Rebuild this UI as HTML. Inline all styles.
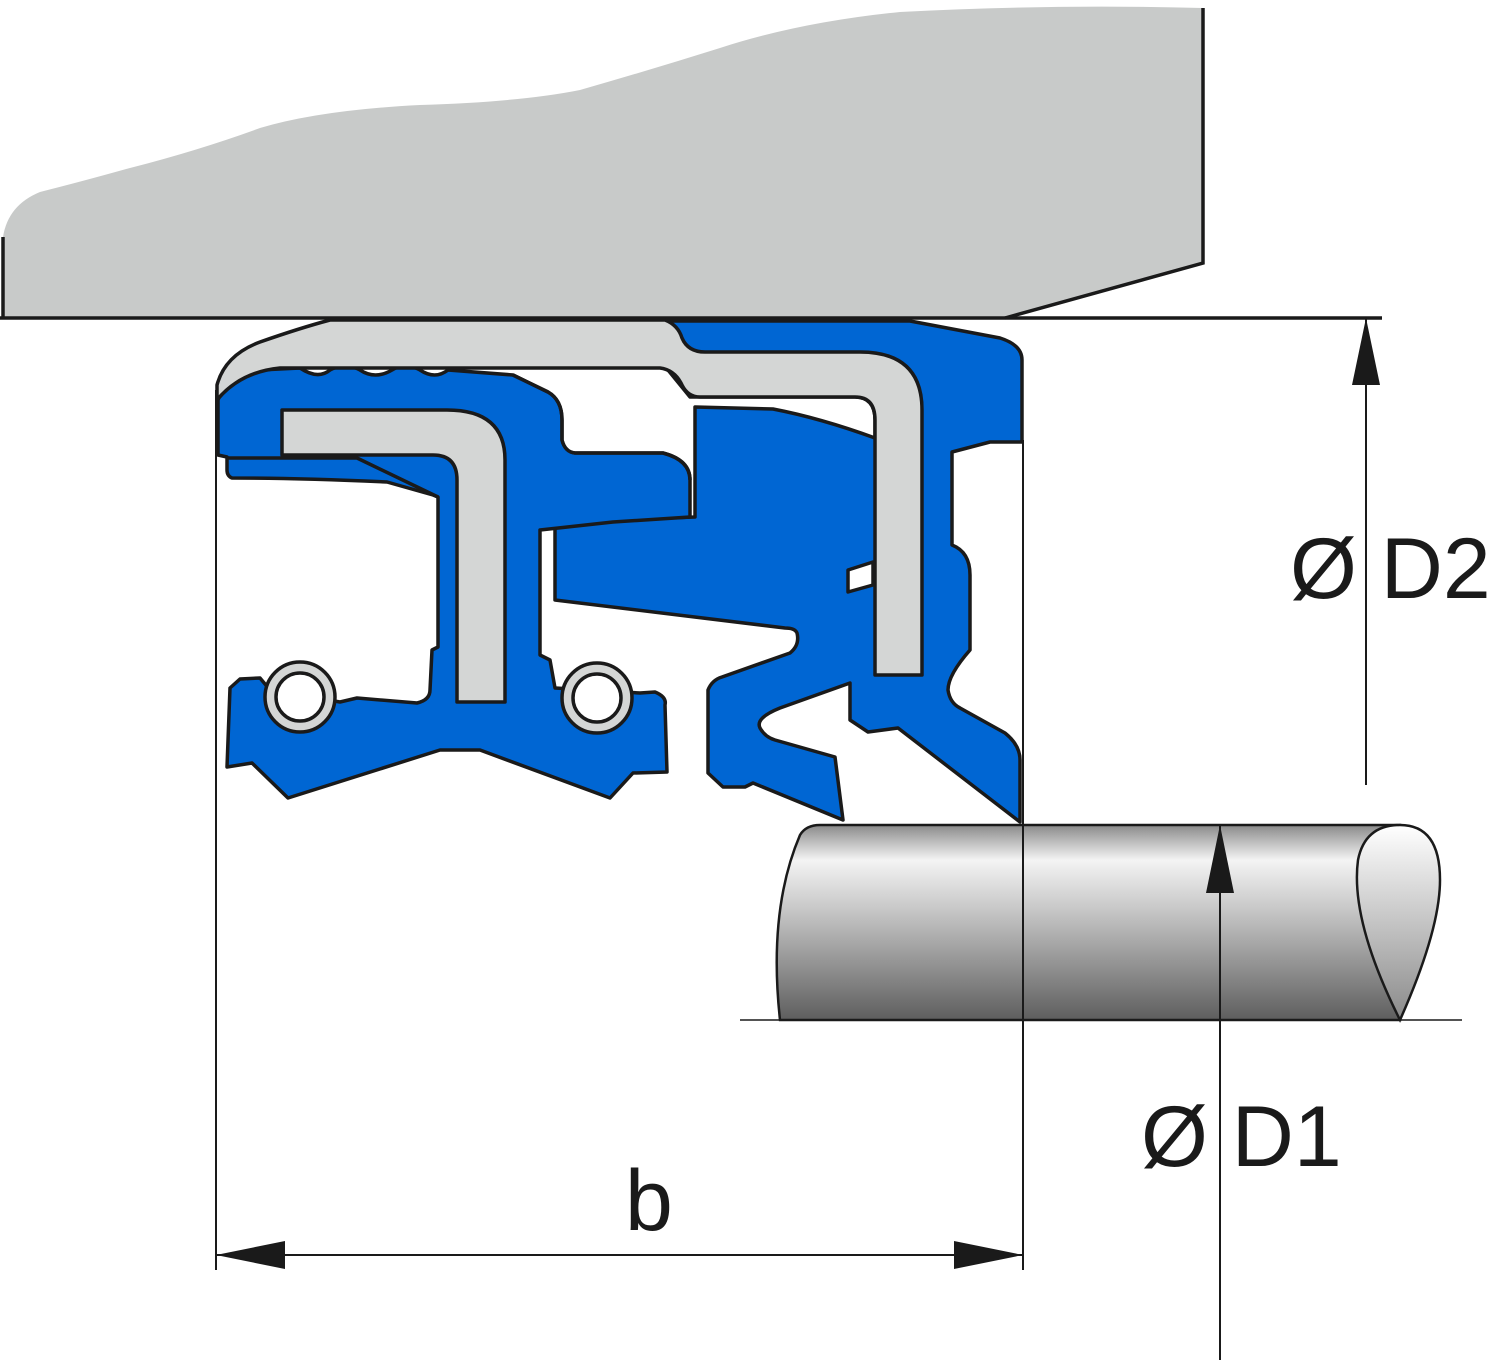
<!DOCTYPE html>
<html><head><meta charset="utf-8"><style>html,body{margin:0;padding:0;background:#fff}svg{display:block}</style></head>
<body>
<svg width="1500" height="1363" viewBox="0 0 1500 1363" xmlns="http://www.w3.org/2000/svg">
<defs>
<linearGradient id="sh" x1="0" y1="0" x2="0" y2="1">
<stop offset="0" stop-color="#8a8a8a"/><stop offset="0.18" stop-color="#f4f4f4"/><stop offset="0.45" stop-color="#c4c4c4"/><stop offset="1" stop-color="#5e5e5e"/>
</linearGradient>
<linearGradient id="face" x1="0" y1="0" x2="0" y2="1">
<stop offset="0" stop-color="#ffffff"/><stop offset="1" stop-color="#8a8a8a"/>
</linearGradient>
</defs>
<path d="M3,237 Q8,205 40,192 Q80,182 130,168 Q200,150 260,128 Q320,110 420,105 Q520,102 580,90 Q650,70 720,48 Q800,22 900,12 Q1050,4 1203,8 L1203,263 L1005,318 L3,318 Z" fill="#c8cac9"/>
<path d="M3,237 L3,318 M1203,8 L1203,263 L1005,318" fill="none" stroke="#1a1a1a" stroke-width="3.5"/>
<line x1="0" y1="318" x2="1382" y2="318" stroke="#1a1a1a" stroke-width="3.5"/>

<g stroke="#1a1a1a" stroke-width="3.5" stroke-linejoin="round">
<path fill="#0066d3" d="M665,321 L910,321 L1000,338 Q1022,345 1022,360 L1022,442 L990,442 L952,452 L952,545 Q970,552 970,575 L970,650 Q948,675 948,690 Q950,703 960,708 L1005,733 Q1020,745 1020,760 L1020,822 L898,728 L868,732 L850,720 L850,683 L780,708 Q755,718 760,728 Q765,737 775,740 L835,757 L843,820 L753,783 L745,787 L723,787 L708,773 L708,690 Q712,680 722,677 L790,653 Q800,645 797,633 Q795,628 785,628 L555,600 L555,522 L695,517 L695,407 L773,409 Q820,418 875,438 L875,420 Q875,397 855,397 L690,397 L668,370 Z"/>
<path fill="#0066d3" d="M218,400 Q225,380 260,370 L300,368 Q318,380 330,370 Q345,362 360,370 Q375,380 392,370 Q405,362 420,370 Q435,380 448,370 L513,375 L548,392 Q562,400 562,420 L562,440 Q565,452 575,453 L663,453 Q690,460 690,480 L690,517 L613,522 L540,530 L540,655 L550,660 L555,688 L640,693 L655,692 Q667,697 665,705 L667,772 L633,773 L610,798 L480,750 L440,750 L288,798 L252,763 L227,767 L230,688 L240,679 L260,678 L270,690 L340,702 L357,698 L417,703 Q430,700 430,690 L432,650 L438,647 L438,497 L433,495 L387,482 Q300,478 232,478 Q227,476 227,470 L227,457 L218,455 Z"/>
<polyline fill="none" points="227,458 357,458 438,497"/>
<polyline fill="none" points="513,375 548,392"/>
<path fill="none" d="M548,392 Q562,400 562,420 L562,440 Q565,452 575,453 L663,453 Q690,460 690,480"/>
<path fill="#fff" d="M848,570 L873,562 L873,585 L848,592 Z"/>
<circle cx="300" cy="697" r="35" fill="#d4d6d5"/><circle cx="300" cy="697" r="24" fill="#fff"/>
<circle cx="597" cy="698" r="35" fill="#d4d6d5"/><circle cx="597" cy="698" r="24" fill="#fff"/>
<path fill="#d4d6d5" d="M282,410 L447,410 Q505,410 505,460 L505,702 L457,702 L457,480 Q457,455 433,455 L282,455 Z"/>
<path fill="#d4d6d5" d="M217,400 L217,385 Q225,355 260,342 Q300,328 330,320 L665,320 Q678,325 682,338 Q688,352 705,352 L860,352 Q922,352 922,410 L922,675 L875,675 L875,420 Q875,397 855,397 L700,397 Q688,397 682,385 Q675,370 660,368 L280,368 Q240,372 217,400 Z"/>
</g>

<path d="M820,825 L1400,825 L1400,1020 L780,1020 Q768,910 800,835 Q806,825 820,825 Z" fill="url(#sh)" stroke="#1a1a1a" stroke-width="2.5"/>
<path d="M1400,825 Q1440,825 1440,880 Q1440,930 1400,1020 Q1350,920 1358,860 Q1365,825 1400,825 Z" fill="url(#face)" stroke="#1a1a1a" stroke-width="2.5"/>
<line x1="740" y1="1020" x2="1462" y2="1020" stroke="#1a1a1a" stroke-width="1.5"/>

<g stroke="#1a1a1a" stroke-width="2">
<line x1="216" y1="390" x2="216" y2="1270"/>
<line x1="1023" y1="440" x2="1023" y2="1270"/>
<line x1="216" y1="1255" x2="1023" y2="1255"/>
<line x1="1366" y1="318" x2="1366" y2="785"/>
<line x1="1220" y1="825" x2="1220" y2="1360"/>
</g>
<g fill="#1a1a1a">
<polygon points="216,1255 285,1241 285,1269"/>
<polygon points="1023,1255 954,1241 954,1269"/>
<polygon points="1366,318 1352,385 1380,385"/>
<polygon points="1220,825 1206,893 1234,893"/>
</g>
<g font-family="Liberation Sans, sans-serif" font-size="86" fill="#1a1a1a">
<text x="625" y="1230">b</text>
<text x="1290" y="598">Ø D2</text>
<text x="1141" y="1166">Ø D1</text>
</g>
</svg>
</body></html>
